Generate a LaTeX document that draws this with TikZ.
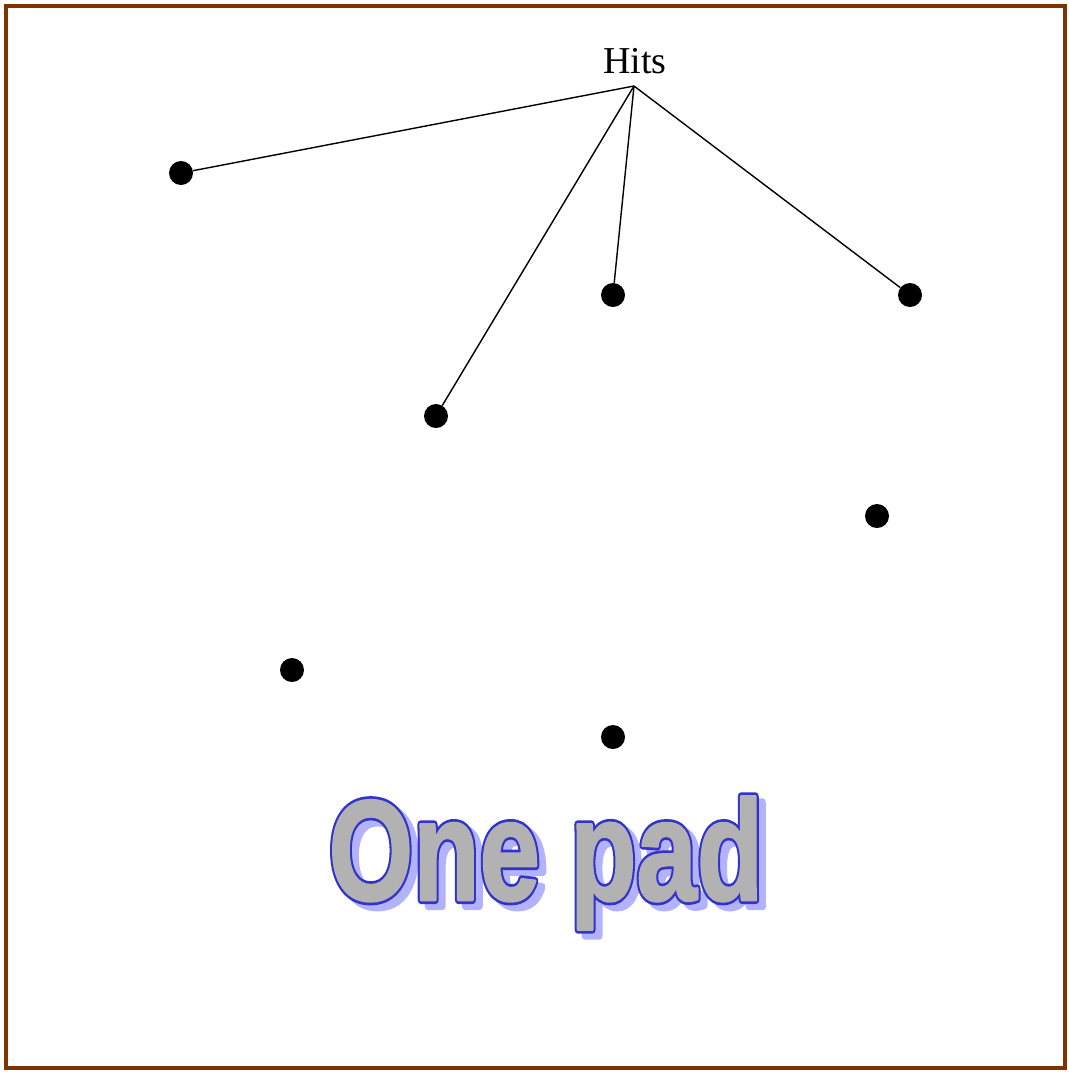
\documentclass[tikz,border=0pt]{standalone}
\usepackage{fontspec}
\usepackage{graphicx}
\newfontfamily\hitsfont{Liberation Serif}
\newfontfamily\padfont{Liberation Sans}
\definecolor{framebrown}{HTML}{7F3300}
\definecolor{padgray}{HTML}{B2B2B2}
\definecolor{padblue}{HTML}{3333CC}
\definecolor{padshadow}{HTML}{B2B2FF}
\tikzset{
  hit/.style={circle, fill=black, inner sep=0pt, minimum size=24pt},
  link/.style={line width=1.4pt, black},
  padlayer/.style={anchor=base, inner sep=0pt},
}
\newcommand{\padtext}[1]{\scalebox{0.76}[1]{\fontsize{143}{143}\padfont\bfseries #1}}
% #1 = stroke width, #2 = stroke colour (r g b), #3 = text
\newcommand{\stroked}[3]{\special{pdf:literal direct 2 Tr #1 w 1 j #2 RG}#3\special{pdf:literal direct 0 Tr}}
\begin{document}
\begin{tikzpicture}[x=1pt,y=-1pt]
\useasboundingbox (0,0) rectangle (1069,1072);
\draw[framebrown, line width=4pt] (6,6) rectangle (1065,1068);
\node[anchor=base, font=\fontsize{38}{38}\hitsfont, inner sep=0pt] (hitslabel) at (635,73) {Hits};
\coordinate (apex) at (634,86);
\node[hit] (h1) at (181,173) {};
\node[hit] (h2) at (613,295) {};
\node[hit] (h3) at (910,295) {};
\node[hit] (h4) at (436,416) {};
\node[hit] (h5) at (877,516) {};
\node[hit] (h6) at (292,670) {};
\node[hit] (h7) at (613,737) {};
\draw[link] (apex) -- (h1);
\draw[link] (apex) -- (h2);
\draw[link] (apex) -- (h3);
\draw[link] (apex) -- (h4);
\node[padlayer, text=padshadow] (padshadow) at (553,906) {\padtext{\stroked{8}{0.698 0.698 1}{One pad}}};
\node[padlayer, text=padblue] (padring) at (546,900) {\padtext{\stroked{8}{0.2 0.2 0.8}{One pad}}};
\node[padlayer, text=padgray] (pad) at (546,900) {\padtext{\stroked{2.6}{0.698 0.698 0.698}{One pad}}};
\end{tikzpicture}
\end{document}
